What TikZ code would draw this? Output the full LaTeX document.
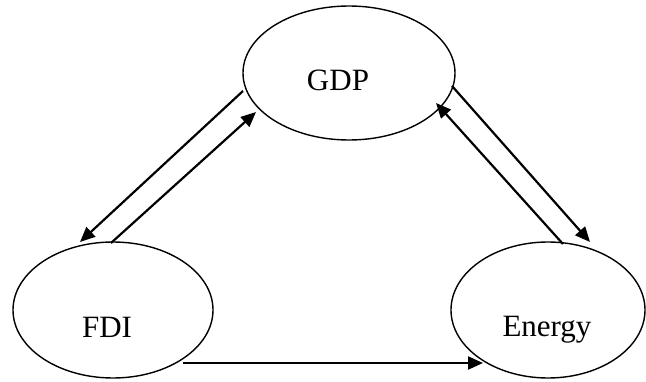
\documentclass[tikz,border=0pt]{standalone}
\usepackage{fontspec}
\setmainfont{Liberation Serif}
\usetikzlibrary{shapes.geometric,arrows.meta}
\begin{document}
\begin{tikzpicture}[x=1pt,y=1pt,
  bubble/.style={draw=black, ellipse, line width=1.4pt, inner sep=0pt},
  caption/.style={anchor=base, inner sep=0pt, font=\fontsize{31}{36}\selectfont},
  link/.style={line width=2.2pt, -{Triangle[length=15pt,width=13pt]}}]
\useasboundingbox (0,0) rectangle (646,381);
\node[bubble, minimum width=212pt, minimum height=134pt] (gdp) at (349,308) {};
\node[bubble, minimum width=200pt, minimum height=136pt] (fdi) at (113,71) {};
\node[bubble, minimum width=194pt, minimum height=136pt] (energy) at (548,71) {};
\node[caption] (gdpt) at ([shift={(-11,-18)}]gdp.center) {GDP};
\node[caption] (fdit) at ([shift={(-6,-27)}]fdi.center) {FDI};
\node[caption] (energyt) at ([shift={(-1,-26)}]energy.center) {Energy};
% GDP <-> FDI
\draw[link] ([shift={(-106,-18)}]gdp.center) -- ([shift={(-33,68)}]fdi.center);
\draw[link] ([shift={(-2,67)}]fdi.center) -- ([shift={(-93,-39)}]gdp.center);
% GDP <-> Energy
\draw[link] ([shift={(103,-13)}]gdp.center) -- ([shift={(42,68)}]energy.center);
\draw[link] ([shift={(15,66)}]energy.center) -- ([shift={(87,-30)}]gdp.center);
% FDI -> Energy
\draw[link] ([shift={(70,-53)}]fdi.center) -- ([shift={(-65,-53)}]energy.center);
\end{tikzpicture}
\end{document}
